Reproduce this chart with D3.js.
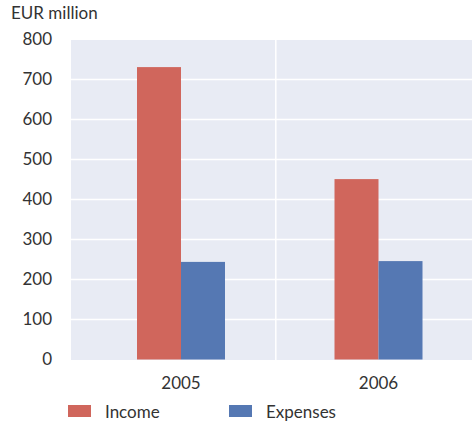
<!DOCTYPE html>
<html>
<head>
<meta charset="utf-8">
<script src="https://cdn.jsdelivr.net/npm/d3@7"></script>
<style>
  body { margin: 0; background: #fff; }
  text { font-family: Lato, "Open Sans", sans-serif; fill: #333; }
</style>
</head>
<body>
<div id="chart"></div>
<script>
// Chart data
var years = ["2005", "2006"];
var series = ["Income", "Expenses"];
var income = [731, 451];
var expenses = [244, 246];
var yTicks = [0, 100, 200, 300, 400, 500, 600, 700, 800];
var colors = ["#d0665c", "#5578b3"];

var width = 472, height = 427;
var plot = {left: 71, right: 472, top: 40, bottom: 360};

var svg = d3.select('#chart').append('svg')
  .attr('width', width)
  .attr('height', height);

// year index --> group centre
var x = d3.scaleLinear().domain([0, 1]).range([181, 378.5]);
var xs = d3.scaleBand().domain(series).range([-44, 44]);
var y = d3.scaleLinear().domain([0, 800]).range([359.5, 39.5]);

svg.append('rect')
  .attr('x', plot.left).attr('y', plot.top)
  .attr('width', plot.right - plot.left)
  .attr('height', plot.bottom - plot.top)
  .attr('fill', '#e8ebf4');

// horizontal grid lines
svg.append('g').selectAll('line')
  .data(yTicks.slice(1, -1))
  .enter().append('line')
  .attr('x1', plot.left).attr('x2', plot.right)
  .attr('y1', function(d) { return y(d); })
  .attr('y2', function(d) { return y(d); })
  .attr('stroke', '#fff').attr('stroke-width', 1.5);

// vertical grid line between the years
svg.append('line')
  .attr('x1', x(0.48)).attr('x2', x(0.48))
  .attr('y1', plot.top).attr('y2', plot.bottom)
  .attr('stroke', '#fff').attr('stroke-width', 1.5);

var rows = years.map(function(yr, i) {
  return {year: yr, i: i, values: [income[i], expenses[i]]};
});

var groups = svg.selectAll('.grp')
  .data(rows)
  .enter().append('g')
  .attr('class', 'grp');

groups.selectAll('rect')
  .data(function(d) {
    return d.values.map(function(v, k) { return {i: d.i, s: series[k], v: v, k: k}; });
  })
  .enter().append('rect')
  .attr('x', function(d) { return x(d.i) + xs(d.s); })
  .attr('width', xs.bandwidth())
  .attr('y', function(d) { return y(d.v); })
  .attr('height', function(d) { return y(0) - y(d.v); })
  .attr('fill', function(d) { return colors[d.k]; });

// y axis labels
var yAxis = d3.axisLeft(y).tickValues(yTicks).tickSize(0).tickPadding(0);
var gy = svg.append('g')
  .attr('transform', 'translate(52,0)')
  .call(yAxis);
gy.select('.domain').remove();
gy.selectAll('text')
  .attr('font-size', 17)
  .attr('font-family', 'Lato, "Open Sans", sans-serif')
  .attr('fill', '#333');

// x labels
svg.append('g').selectAll('text')
  .data(years)
  .enter().append('text')
  .attr('x', function(d, i) { return x(i); })
  .attr('y', 389)
  .attr('text-anchor', 'middle')
  .attr('font-size', 17)
  .text(function(d) { return d; });

svg.append('text')
  .attr('x', 11).attr('y', 19)
  .attr('font-size', 17)
  .text('EUR million');

// legend
var legend = svg.selectAll('.leg')
  .data(series)
  .enter().append('g')
  .attr('transform', function(d, i) { return 'translate(' + (68 + i * 161) + ',405)'; });

legend.append('rect')
  .attr('width', 23).attr('height', 12)
  .attr('fill', function(d, i) { return colors[i]; });

legend.append('text')
  .attr('x', 37).attr('y', 13)
  .attr('font-size', 17)
  .text(function(d) { return d; });
</script>
</body>
</html>
